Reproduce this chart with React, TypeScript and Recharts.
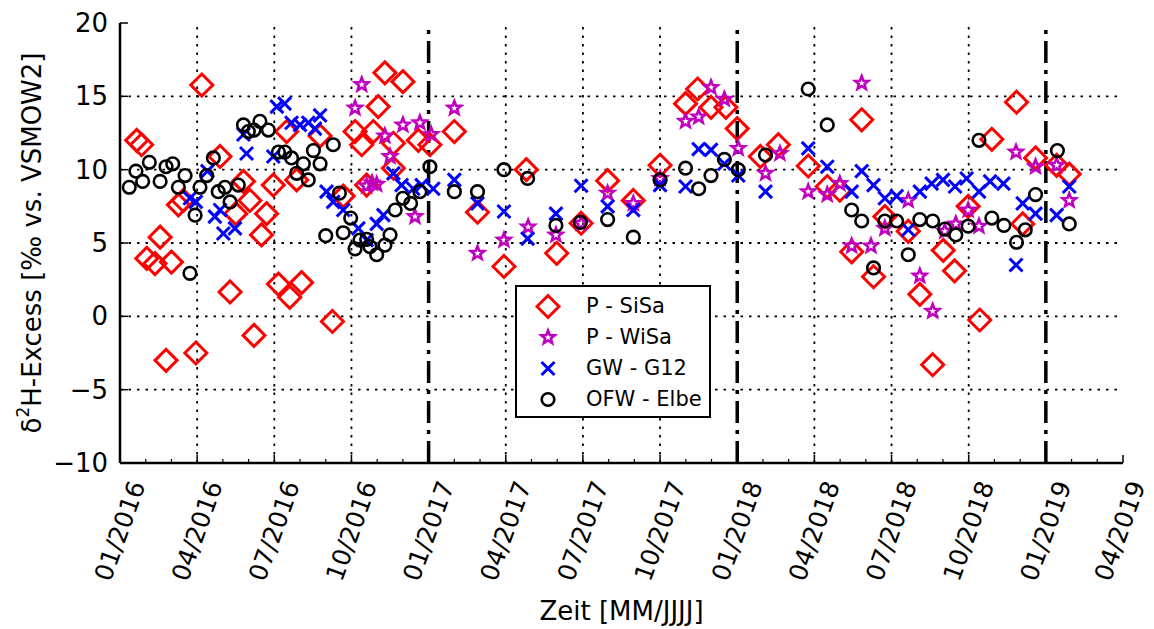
import React from 'react';
import { ScatterChart, Scatter, XAxis, YAxis, ReferenceLine } from 'recharts';

// x values are months since 01/2016 (0 = 01/2016, 12 = 01/2017 ...)
const sisaMonths = [0.65, 0.84, 1.04, 1.36, 1.56, 1.79, 2.0, 2.27, 2.46, 2.95, 3.18, 3.89, 4.28, 4.5, 4.8, 5.05, 5.21, 5.5, 5.7, 5.96, 6.16, 6.48, 6.6, 6.87, 7.06, 7.78, 8.26, 8.68, 9.14, 9.4, 9.59, 9.85, 10.04, 10.3, 10.63, 10.63, 11.0, 11.6, 12.05, 13.0, 13.9, 14.93, 15.8, 16.98, 17.93, 18.96, 19.96, 21.0, 21.99, 22.46, 22.98, 23.56, 24.0, 24.9, 25.6, 26.76, 27.5, 27.99, 28.45, 28.84, 29.3, 29.74, 30.65, 31.1, 31.6, 32.01, 32.45, 32.98, 33.43, 33.9, 34.86, 35.1, 35.6, 36.42, 36.91];
const sisaValues = [12.0, 11.7, 3.95, 3.6, 5.4, -3.0, 3.7, 7.6, 7.9, -2.5, 15.77, 10.9, 1.66, 7.0, 9.2, 7.9, -1.3, 5.55, 7.0, 8.95, 2.2, 12.6, 1.3, 9.3, 2.3, 12.3, -0.35, 8.2, 12.6, 11.7, 8.95, 12.6, 14.3, 16.6, 11.8, 10.1, 16.0, 12.0, 11.7, 12.6, 7.1, 3.4, 10.0, 4.3, 6.35, 9.25, 7.9, 10.3, 14.5, 15.5, 14.25, 14.25, 12.8, 10.9, 11.7, 10.25, 8.85, 8.6, 4.4, 13.4, 2.7, 6.8, 5.8, 1.5, -3.3, 4.5, 3.1, 7.5, -0.25, 12.07, 14.6, 6.3, 10.8, 10.3, 9.7];

const wisaMonths = [9.14, 9.4, 9.59, 9.8, 9.98, 10.3, 10.5, 11.0, 11.47, 11.66, 12.1, 13.0, 13.9, 14.93, 15.87, 16.95, 17.93, 18.96, 19.96, 21.0, 21.99, 22.5, 22.98, 23.5, 24.04, 25.1, 25.66, 26.76, 27.5, 27.99, 28.45, 28.84, 29.2, 29.74, 30.65, 31.1, 31.6, 32.07, 32.5, 32.98, 33.4, 34.84, 35.6, 36.42, 36.91];
const wisaValues = [14.2, 15.8, 8.9, 9.1, 9.0, 12.3, 10.9, 13.05, 6.8, 13.2, 12.4, 14.2, 4.3, 5.2, 6.1, 5.55, 6.35, 8.4, 7.7, 9.4, 13.3, 13.6, 15.6, 14.8, 11.45, 9.75, 11.1, 8.5, 8.3, 9.05, 4.8, 15.9, 4.8, 6.0, 7.9, 2.75, 0.35, 5.8, 6.3, 7.25, 6.15, 11.2, 10.2, 10.3, 7.9];

const g12Months = [2.72, 2.95, 3.4, 3.69, 3.89, 4.02, 4.47, 4.8, 4.92, 5.96, 6.1, 6.4, 6.67, 7.0, 7.32, 7.58, 7.78, 8.03, 8.29, 8.68, 9.27, 9.59, 9.98, 10.24, 10.63, 10.95, 11.4, 11.73, 12.18, 13.0, 13.9, 14.93, 15.85, 16.95, 17.93, 18.96, 19.96, 21.0, 21.99, 22.5, 22.98, 23.5, 24.04, 25.1, 26.76, 27.5, 28.45, 28.84, 29.3, 29.74, 30.2, 30.65, 31.1, 31.56, 32.0, 32.47, 32.92, 33.4, 33.83, 34.35, 34.84, 35.1, 35.6, 36.42, 36.91];
const g12Values = [8.05, 7.8, 9.9, 6.8, 7.25, 5.65, 6.0, 12.4, 11.1, 10.9, 14.3, 14.5, 13.2, 13.05, 13.2, 12.8, 13.7, 8.5, 7.8, 7.25, 6.0, 5.2, 6.3, 6.9, 9.75, 8.95, 8.7, 8.95, 8.7, 9.3, 7.7, 7.15, 5.3, 7.0, 8.9, 7.5, 7.25, 8.95, 8.85, 11.4, 11.35, 10.4, 9.6, 8.5, 11.45, 10.2, 8.5, 9.9, 8.95, 8.05, 8.2, 5.9, 8.5, 9.05, 9.3, 8.85, 9.4, 8.5, 9.2, 9.05, 3.5, 7.7, 7.0, 6.9, 8.85];

const elbeMonths = [0.36, 0.62, 0.88, 1.14, 1.56, 1.79, 2.05, 2.27, 2.53, 2.72, 2.92, 3.11, 3.37, 3.63, 3.82, 4.08, 4.28, 4.6, 4.8, 4.99, 5.21, 5.44, 5.77, 6.16, 6.41, 6.67, 6.87, 7.13, 7.32, 7.52, 7.78, 8.0, 8.29, 8.53, 8.68, 8.97, 9.14, 9.33, 9.59, 9.72, 9.98, 10.3, 10.5, 10.7, 11.0, 11.3, 11.66, 12.05, 13.0, 13.9, 14.93, 15.85, 16.95, 17.9, 18.96, 19.96, 21.0, 21.99, 22.5, 22.98, 23.5, 24.04, 25.1, 26.76, 27.5, 28.45, 28.84, 29.3, 29.74, 30.2, 30.65, 31.1, 31.6, 32.07, 32.5, 32.98, 33.4, 33.9, 34.37, 34.86, 35.2, 35.6, 36.45, 36.91];
const elbeValues = [8.8, 9.9, 9.2, 10.5, 9.2, 10.2, 10.4, 8.8, 9.6, 2.93, 6.9, 8.8, 9.6, 10.8, 8.5, 8.8, 7.8, 8.95, 13.05, 12.6, 12.7, 13.3, 12.7, 11.2, 11.2, 10.8, 9.75, 10.4, 9.3, 11.3, 10.4, 5.5, 11.7, 8.4, 5.7, 6.7, 4.6, 5.2, 5.25, 4.75, 4.2, 4.85, 5.55, 7.25, 8.05, 7.7, 8.5, 10.2, 8.5, 8.5, 10.0, 9.4, 6.2, 6.4, 6.6, 5.4, 9.3, 10.1, 8.7, 9.6, 10.7, 10.0, 11.0, 15.5, 13.05, 7.25, 6.5, 3.3, 6.5, 6.5, 4.2, 6.6, 6.5, 5.95, 5.55, 6.15, 12.0, 6.7, 6.2, 5.05, 5.9, 8.3, 11.3, 6.3];

const quarterTicks = [0, 3, 6, 9, 12, 15, 18, 21, 24, 27, 30, 33, 36, 39];
const quarterLabels = ['01/2016', '04/2016', '07/2016', '10/2016', '01/2017', '04/2017', '07/2017', '10/2017', '01/2018', '04/2018', '07/2018', '10/2018', '01/2019', '04/2019'];
const yearBreaks = [12, 24, 36];
const yTicks = [-10, -5, 0, 5, 10, 15, 20];
const monthTicks = Array.from({ length: 40 }, (_, i) => i);

const FONT = 'DejaVu Sans, sans-serif';
const RED = '#ff0000';
const MAGENTA = '#bf00bf';
const BLUE = '#0000ff';

const toPoints = (xs: number[], ys: number[]) => xs.map((x, i) => ({ x, y: ys[i] }));

const sisaData = toPoints(sisaMonths, sisaValues);
const wisaData = toPoints(wisaMonths, wisaValues);
const g12Data = toPoints(g12Months, g12Values);
const elbeData = toPoints(elbeMonths, elbeValues);

function Diamond({ cx, cy }: any) {
  const r = 11;
  return <path d={`M${cx},${cy - r}L${cx + r},${cy}L${cx},${cy + r}L${cx - r},${cy}Z`} fill="none" stroke={RED} strokeWidth={3} />;
}

function Star({ cx, cy }: any) {
  const pts: string[] = [];
  for (let i = 0; i < 10; i++) {
    const r = i % 2 === 0 ? 7 : 3;
    const a = -Math.PI / 2 + (i * Math.PI) / 5;
    pts.push(`${cx + r * Math.cos(a)},${cy + r * Math.sin(a)}`);
  }
  return <polygon points={pts.join(' ')} fill="none" stroke={MAGENTA} strokeWidth={2.6} strokeLinejoin="miter" />;
}

function Cross({ cx, cy }: any) {
  const r = 6.5;
  return (
    <g stroke={BLUE} strokeWidth={3}>
      <line x1={cx - r} y1={cy - r} x2={cx + r} y2={cy + r} />
      <line x1={cx - r} y1={cy + r} x2={cx + r} y2={cy - r} />
    </g>
  );
}

function Ring({ cx, cy }: any) {
  return <circle cx={cx} cy={cy} r={6.3} fill="none" stroke="#000" strokeWidth={2.6} />;
}

function BottomTick({ x, y, payload }: any) {
  const m = payload.value;
  const idx = quarterTicks.indexOf(m);
  const major = idx >= 0;
  return (
    <g>
      <line x1={x} x2={x} y1={y} y2={y - (major ? 8 : 4)} stroke="#000" strokeWidth={major ? 1.5 : 1.2} />
      {major && (
        <text
          transform={`translate(${idx === quarterTicks.length - 1 ? x - 3 : x},${y + 68}) rotate(-70)`}
          textAnchor="middle"
          dominantBaseline="central"
          fontSize={25}
          fontFamily={FONT}
          fill="#000"
        >
          {quarterLabels[idx]}
        </text>
      )}
    </g>
  );
}

function TopTick({ x, y, payload }: any) {
  const major = quarterTicks.includes(payload.value);
  return <line x1={x} x2={x} y1={y} y2={y + (major ? 8 : 4)} stroke="#000" strokeWidth={major ? 1.5 : 1.2} />;
}

function LeftTick({ x, y, payload }: any) {
  const v = payload.value;
  return (
    <g>
      <line x1={x} x2={x + 8} y1={y} y2={y} stroke="#000" strokeWidth={1.5} />
      <text x={x - 12} y={y} textAnchor="end" dominantBaseline="central" fontSize={26} fontFamily={FONT} fill="#000">
        {v < 0 ? `\u2212${Math.abs(v)}` : v}
      </text>
    </g>
  );
}

function RightTick({ x, y }: any) {
  return <line x1={x} x2={x - 8} y1={y} y2={y} stroke="#000" strokeWidth={1.5} />;
}

function YLabel({ viewBox }: any) {
  const cy = viewBox.y + viewBox.height / 2;
  return (
    <text transform={`translate(32,${cy}) rotate(-90)`} textAnchor="middle" dominantBaseline="central" fontSize={26} fontFamily={FONT} fill="#000">
      δ<tspan dy={-9} fontSize={17}>2</tspan><tspan dy={9}>H-Excess [‰ vs. VSMOW2]</tspan>
    </text>
  );
}

function XLabel({ viewBox }: any) {
  const cx = viewBox.x + viewBox.width / 2;
  return (
    <text x={cx} y={620} textAnchor="middle" fontSize={26} fontFamily={FONT} fill="#000">
      Zeit [MM/JJJJ]
    </text>
  );
}

const legendItems = [
  { name: 'P - SiSa', Shape: Diamond },
  { name: 'P - WiSa', Shape: Star },
  { name: 'GW - G12', Shape: Cross },
  { name: 'OFW - Elbe', Shape: Ring },
];

export default function App() {
  const axisStroke = { stroke: '#000', strokeWidth: 2.5 };
  return (
    <div style={{ position: 'absolute', left: 0, top: 0, width: 1154, height: 629, background: '#fff', fontFamily: FONT }}>
      <ScatterChart width={1154} height={629} margin={{ top: 23, right: 31, bottom: 0, left: 0 }}>
        <XAxis
          type="number"
          dataKey="x"
          domain={[0, 39]}
          ticks={monthTicks}
          interval={0}
          height={166}
          tickSize={0}
          tickMargin={0}
          tickLine={false}
          axisLine={axisStroke}
          tick={(p: any) => <BottomTick {...p} />}
          label={<XLabel />}
          allowDataOverflow
        />
        <XAxis
          xAxisId="top"
          orientation="top"
          type="number"
          domain={[0, 39]}
          ticks={monthTicks}
          interval={0}
          height={0}
          tickSize={0}
          tickMargin={0}
          tickLine={false}
          axisLine={axisStroke}
          tick={(p: any) => <TopTick {...p} />}
        />
        <YAxis
          type="number"
          dataKey="y"
          domain={[-10, 20]}
          ticks={yTicks}
          interval={0}
          width={120}
          tickSize={0}
          tickMargin={0}
          tickLine={false}
          axisLine={axisStroke}
          tick={(p: any) => <LeftTick {...p} />}
          label={<YLabel />}
          allowDataOverflow
        />
        <YAxis
          yAxisId="right"
          orientation="right"
          type="number"
          domain={[-10, 20]}
          ticks={yTicks}
          interval={0}
          width={0}
          tickSize={0}
          tickMargin={0}
          tickLine={false}
          axisLine={axisStroke}
          tick={(p: any) => <RightTick {...p} />}
        />
        {quarterTicks
          .filter((t) => t > 0 && t < 39 && !yearBreaks.includes(t))
          .map((t) => (
            <ReferenceLine key={`gx${t}`} x={t} stroke="#000" strokeWidth={1.8} strokeDasharray="2.5 6" />
          ))}
        {yTicks
          .filter((t) => t > -10 && t < 20)
          .map((t) => (
            <ReferenceLine key={`gy${t}`} y={t} stroke="#000" strokeWidth={1.8} strokeDasharray="2.5 6" />
          ))}
        {yearBreaks.map((t) => (
          <ReferenceLine key={`yb${t}`} x={t} stroke="#000" strokeWidth={3.5} strokeDasharray="22 7 4 7" />
        ))}
        <Scatter name="P - SiSa" data={sisaData} shape={(p: any) => <Diamond {...p} />} isAnimationActive={false} />
        <Scatter name="P - WiSa" data={wisaData} shape={(p: any) => <Star {...p} />} isAnimationActive={false} />
        <Scatter name="GW - G12" data={g12Data} shape={(p: any) => <Cross {...p} />} isAnimationActive={false} />
        <Scatter name="OFW - Elbe" data={elbeData} shape={(p: any) => <Ring {...p} />} isAnimationActive={false} />
      </ScatterChart>
      <div
        style={{
          position: 'absolute',
          left: 515,
          top: 285,
          width: 196,
          height: 133,
          boxSizing: 'border-box',
          border: '2px solid #000',
          background: '#fff',
          paddingTop: 4,
        }}
      >
        {legendItems.map(({ name, Shape }) => (
          <div key={name} style={{ display: 'flex', alignItems: 'center', height: 31 }}>
            <svg width={60} height={31} style={{ flex: 'none' }}>
              <Shape cx={31} cy={15.5} />
            </svg>
            <span style={{ fontSize: 21, marginLeft: 9, color: '#000', lineHeight: '31px' }}>{name}</span>
          </div>
        ))}
      </div>
    </div>
  );
}
